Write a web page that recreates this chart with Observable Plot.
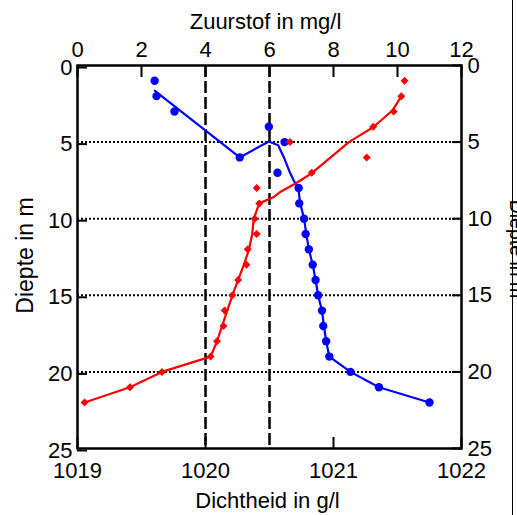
<!DOCTYPE html>
<html><head><meta charset="utf-8">
<script src="https://cdn.jsdelivr.net/npm/d3@7"></script>
<script src="https://cdn.jsdelivr.net/npm/@observablehq/plot@0.6"></script>
<style>
html,body{margin:0;padding:0;background:#fff;overflow:hidden;width:517px;height:515px;}
#chart{position:relative;width:517px;height:515px;}
#chart svg{display:block;}
#edge{position:absolute;left:512px;top:0;width:0;height:515px;border-left:1.5px solid #000;}
</style></head><body><div id="chart"><div id="edge"></div></div><script>
// Titles
const o2Title = "Zuurstof in mg/l";
const densTitle = "Dichtheid in g/l";
const depthTitle = "Diepte in m";

// Tick labels
const o2Ticks = [0, 2, 4, 6, 8, 10, 12];
const densTicks = [1019, 1020, 1021, 1022];
const depthTicks = [0, 5, 10, 15, 20, 25];
const gridDepths = [5, 10, 15, 20];
const refO2 = [4, 6];
const densDomain = [1019, 1022];
const o2Domain = [0, 12];
const depthDomain = [0, 25];

// Measured points (depth in m)
const depthPts = [1, 2, 3, 4, 5, 6, 7, 8, 9, 10, 11, 12, 13, 14, 15, 16, 17, 18, 19, 20, 21, 22];
const o2Pts = [2.41, 2.47, 3.03, 5.98, 6.47, 5.07, 6.25, 6.91, 6.93, 7.08, 7.13, 7.23, 7.35, 7.44, 7.52, 7.64, 7.68, 7.77, 7.87, 8.53, 9.42, 11.0];
const densPts = [1021.555, 1021.53, 1021.47, 1021.31, 1020.66, 1021.26, 1020.83, 1020.40, 1020.42, 1020.385, 1020.40, 1020.33, 1020.32, 1020.255, 1020.21, 1020.15, 1020.14, 1020.09, 1020.04, 1019.66, 1019.41, 1019.055];

// Fitted lines
const o2LineDepth = [1.65, 6.0, 4.96, 5.2, 6.0, 6.9, 7.6, 8.0, 9.0, 10, 11, 12, 13, 14, 15, 16, 17, 18, 19, 20, 21, 22];
const o2LineVal = [2.42, 5.07, 5.98, 6.27, 6.45, 6.62, 6.78, 6.90, 6.96, 7.08, 7.15, 7.23, 7.35, 7.44, 7.52, 7.64, 7.70, 7.77, 7.87, 8.53, 9.42, 11.0];
const densLineDepth = [2.15, 2.94, 4.03, 5.0, 5.98, 7.03, 7.72, 8.22, 8.6, 9.0, 10, 11, 12, 13, 14, 15, 16, 17, 18, 19, 20, 21, 22];
const densLineVal = [1021.52, 1021.46, 1021.31, 1021.12, 1020.98, 1020.83, 1020.70, 1020.59, 1020.53, 1020.42, 1020.377, 1020.365, 1020.34, 1020.30, 1020.255, 1020.21, 1020.17, 1020.13, 1020.09, 1020.04, 1019.66, 1019.41, 1019.055];

// Map density onto the shared x (oxygen) scale
const toX = v => (v - densDomain[0]) / (densDomain[1] - densDomain[0]) * (o2Domain[1] - o2Domain[0]) + o2Domain[0];
const fromX = x => densDomain[0] + (x - o2Domain[0]) / (o2Domain[1] - o2Domain[0]) * (densDomain[1] - densDomain[0]);

const o2Data = depthPts.map((d, i) => ({d, v: o2Pts[i]}));
const densData = depthPts.map((d, i) => ({d, v: densPts[i]}));
const o2Line = o2LineDepth.map((d, i) => ({d, v: o2LineVal[i]}));
const densLine = densLineDepth.map((d, i) => ({d, v: densLineVal[i]}));
const midDepth = (depthDomain[0] + depthDomain[1]) / 2;
const yTitle = [{t: depthTitle, d: midDepth}];

const BLUE = "#0000ff", RED = "#ff0000";
const font = "'Liberation Sans', Arial, Helvetica, sans-serif";

const plot = Plot.plot({
  width: 517, height: 515,
  marginTop: 65, marginBottom: 67, marginLeft: 77, marginRight: 56,
  style: {fontFamily: font, fontSize: "22px", color: "#000", background: "#fff", overflow: "hidden"},
  x: {domain: o2Domain},
  y: {domain: depthDomain, reverse: true},
  marks: [
    Plot.ruleY(gridDepths, {stroke: "#000", strokeWidth: 2, strokeDasharray: "2,2"}),
    Plot.ruleX(refO2, {stroke: "#000", strokeWidth: 2.5, strokeDasharray: "12,4"}),
    Plot.line(o2Line, {x: "v", y: "d", stroke: BLUE, strokeWidth: 2.2}),
    Plot.line(densLine, {x: d => toX(d.v), y: "d", stroke: RED, strokeWidth: 2.2}),
    Plot.dot(o2Data, {x: "v", y: "d", r: 4.2, fill: BLUE}),
    Plot.dot(densData, {x: d => toX(d.v), y: "d", r: 3.6, symbol: "diamond2", fill: RED}),
    Plot.frame({stroke: "#000", strokeWidth: 2.5}),
    Plot.axisX(o2Ticks, {anchor: "top", label: null, tickSize: -11, tickPadding: 20, strokeWidth: 2, tickFormat: d => String(d)}),
    Plot.axisX(densTicks.map(toX), {anchor: "bottom", label: null, tickSize: -11, tickPadding: 25, strokeWidth: 2, tickFormat: x => String(Math.round(fromX(x)))}),
    Plot.axisY(depthTicks, {anchor: "left", label: null, tickSize: -10, tickPadding: 15, dy: 2, strokeWidth: 2, tickFormat: d => String(d)}),
    Plot.axisY(depthTicks, {anchor: "right", label: null, tickSize: -10, tickPadding: 16, strokeWidth: 2, tickFormat: d => String(d)}),
    Plot.text([o2Title], {frameAnchor: "top", lineAnchor: "bottom", dy: -37, dx: -4, fontSize: 22}),
    Plot.text([densTitle], {frameAnchor: "bottom", lineAnchor: "bottom", dy: 59, dx: -2, fontSize: 22}),
    Plot.text(yTitle, {text: "t", y: "d", frameAnchor: "left", textAnchor: "middle", lineAnchor: "bottom", rotate: -90, dx: -45, dy: -1.5, fontSize: 23}),
    Plot.text(yTitle, {text: "t", y: "d", frameAnchor: "right", textAnchor: "middle", lineAnchor: "bottom", rotate: 90, dx: 48.5, dy: -8, fontSize: 19.5})
  ]
});
document.getElementById("chart").prepend(plot);
</script></body></html>
